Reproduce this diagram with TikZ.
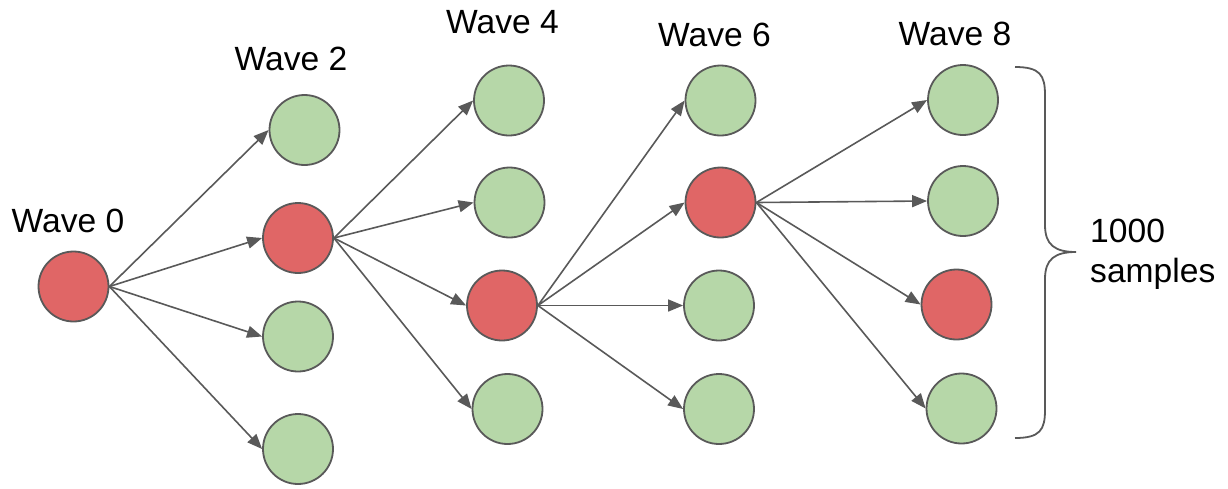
\documentclass[tikz,border=0pt]{standalone}
\usepackage{fontspec}
\setmainfont{Liberation Sans}
\usetikzlibrary{arrows.meta}

\definecolor{edgegray}{HTML}{595959}
\definecolor{hitred}{HTML}{E06666}
\definecolor{missgreen}{HTML}{B6D7A8}

\tikzset{
  sample/.style={circle, draw=edgegray, line width=1.8pt, minimum size=70pt, inner sep=0pt},
  hit/.style={sample, fill=hitred},
  miss/.style={sample, fill=missgreen},
  link/.style={draw=edgegray, line width=1.6pt, -{Triangle[length=15pt, width=12pt]}},
  wavelabel/.style={anchor=base, inner sep=0pt, font=\fontsize{33.6pt}{40pt}\selectfont},
}

\begin{document}
\begin{tikzpicture}[x=1pt, y=-1pt]
  \useasboundingbox (0,0) rectangle (1228,488);

  % wave 0
  \node[hit]  (w0) at (73.5,286.5) {};
  % wave 2
  \node[miss] (a1) at (304.5,130) {};
  \node[hit]  (a2) at (298,238) {};
  \node[miss] (a3) at (298,336.5) {};
  \node[miss] (a4) at (298,449) {};
  % wave 4
  \node[miss] (b1) at (509,100.5) {};
  \node[miss] (b2) at (509.5,202.5) {};
  \node[hit]  (b3) at (502,305.5) {};
  \node[miss] (b4) at (507.5,409) {};
  % wave 6
  \node[miss] (c1) at (720.5,100.5) {};
  \node[hit]  (c2) at (720.5,202.5) {};
  \node[miss] (c3) at (719,305.5) {};
  \node[miss] (c4) at (719,409) {};
  % wave 8
  \node[miss] (d1) at (963,100) {};
  \node[miss] (d2) at (963,201) {};
  \node[hit]  (d3) at (956.5,304.5) {};
  \node[miss] (d4) at (961.5,408.5) {};

  % branching from each selected sample
  \foreach \t in {a1,a2,a3,a4} \draw[link] (w0.east) -- (\t.west);
  \foreach \t in {b1,b2,b3,b4} \draw[link] (a2.east) -- (\t.west);
  \foreach \t in {c1,c2,c3,c4} \draw[link] (b3.east) -- (\t.west);
  \foreach \t in {d1,d2,d3,d4} \draw[link] (c2.east) -- (\t.west);

  % column titles
  \node[wavelabel] (l0) at (68,232)    {Wave 0};
  \node[wavelabel] (l2) at (291,70.5)  {Wave 2};
  \node[wavelabel] (l4) at (502.5,33)  {Wave 4};
  \node[wavelabel] (l6) at (714.5,46)  {Wave 6};
  \node[wavelabel] (l8) at (955,45)    {Wave 8};

  % curly brace over the last wave
  \draw[edgegray, line width=1.8pt]
    (1015,67) .. controls (1040,67) and (1045,75) .. (1045,95)
    -- (1045,225) .. controls (1045,245) and (1055,252) .. (1076,252)
    .. controls (1055,252) and (1045,259) .. (1045,279)
    -- (1045,410) .. controls (1045,430) and (1040,438) .. (1015,438);

  % two-line caption, placed by the baseline of its last line
  \node[wavelabel, anchor=base west, align=left] (ns) at (1090,282) {1000\\samples};
\end{tikzpicture}
\end{document}
